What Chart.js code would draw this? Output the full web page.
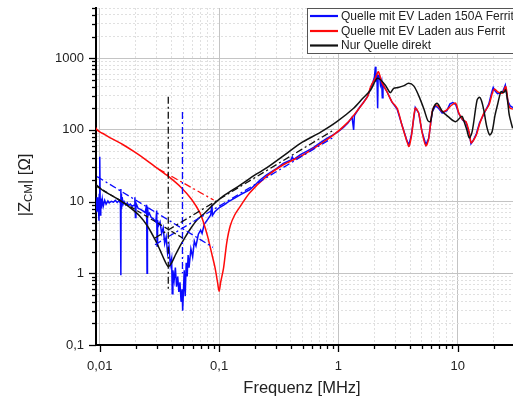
<!DOCTYPE html>
<html><head><meta charset="utf-8">
<script src="https://cdn.jsdelivr.net/npm/chart.js@4/dist/chart.umd.min.js"></script>
<style>html,body{margin:0;padding:0;background:#fff}#wrap{width:513px;height:401px;position:relative}</style>
</head><body><div id="wrap"><canvas id="c" width="513" height="401"></canvas></div>
<script>
// ---- tick labels ----
const xTickValues = [0.01, 0.1, 1, 10];
const xTickLabels = ['0,01', '0,1', '1', '10'];
const yTickValues = [0.1, 1, 10, 100, 1000];
const yTickLabels = ['0,1', '1', '10', '100', '1000'];
const xTitle = 'Frequenz [MHz]';
const legendLabels = ['Quelle mit EV Laden 150A Ferrit', 'Quelle mit EV Laden aus Ferrit', 'Nur Quelle direkt'];

// ---- series: Quelle mit EV Laden 150A Ferrit (blue) ----
const blueF = [0.0092,0.00935,0.0095,0.0096,0.0097,0.00985,0.0099,0.01,0.0101,0.0102,0.0103,0.0105,0.0107,0.011,0.0113,0.0117,0.012,0.0125,0.013,0.0135,0.014,0.0145,0.0149,0.015,0.01505,0.0151,0.0152,0.0154,0.0157,0.016,0.0165,0.017,0.0175,0.018,0.0187,0.0194,0.0197,0.0199,0.0201,0.021,0.022,0.023,0.024,0.0247,0.0249,0.0251,0.0255,0.026,0.027,0.028,0.0295,0.03,0.0302,0.0305,0.031,0.032,0.033,0.034,0.035,0.036,0.037,0.038,0.039,0.04,0.0405,0.041,0.042,0.043,0.044,0.045,0.046,0.047,0.048,0.049,0.0495,0.05,0.051,0.052,0.053,0.054,0.055,0.056,0.058,0.06,0.062,0.064,0.067,0.07,0.072,0.075,0.08,0.085,0.087,0.088,0.092,0.1,0.11,0.12,0.135,0.15,0.18,0.2,0.22,0.25,0.3,0.345,0.4,0.41,0.42,0.48,0.55,0.62,0.7,0.8,0.91,1.0,1.1,1.2,1.3,1.34,1.36,1.5,1.6,1.75,1.86,1.95,2.0,2.04,2.06,2.1,2.13,2.15,2.2,2.25,2.3,2.33,2.36,2.45,2.55,2.8,3.1,3.4,3.75,3.9,4.1,4.4,4.7,5.0,5.4,5.7,6.1,6.5,6.9,7.4,8.1,8.6,9.1,9.6,10.2,11,11.7,12.5,12.9,13.4,14.3,15.2,16.5,18.2,19.2,19.8,20.5,21.5,23.6,25,26.3,27.5,29];
const blueZ = [9.5,8.2,11.5,7.2,10.5,5.4,12.5,42,6.5,11,8,10.8,8.6,10.4,9.2,10.2,9.6,10.1,9.8,10.4,9.7,10.3,9.5,15,0.94,13,7.8,11.5,9.2,10,9.0,9.6,8.8,9.2,8.6,8.9,11.5,6.0,9.5,8.0,7.8,7.4,7.0,9.0,1.0,8.5,6.5,6.9,6.0,5.8,5.2,7.5,2.4,5.5,4.6,5.2,3.6,4.3,2.6,3.2,1.9,2.4,1.3,1.6,0.52,1.1,0.8,1.2,0.65,0.9,0.55,0.75,0.4,0.6,0.3,0.45,1.1,0.48,1.4,0.9,1.8,1.2,2.2,1.7,2.8,2.4,3.5,4.0,3.6,4.8,5.6,6.5,9.0,6.4,7.2,8.2,9.0,10.0,11.2,12.4,14.6,17,20,23.5,28.5,34,38,42,38.5,45,51,57,66,76,86,95,108,125,150,100,158,205,235,290,380,470,540,760,470,610,200,560,580,420,480,280,440,380,340,245,195,118,70,62,88,205,172,96,62,76,178,215,200,172,185,230,240,225,168,136,128,88,64,70,88,125,165,230,330,390,350,320,330,420,250,215,205];

// ---- series: Quelle mit EV Laden aus Ferrit (red) ----
const redF = [0.0092,0.0095,0.01,0.011,0.0125,0.0157,0.02,0.025,0.03,0.0376,0.0485,0.0589,0.069,0.074,0.08,0.0838,0.088,0.0925,0.097,0.1,0.103,0.109,0.116,0.124,0.135,0.15,0.18,0.25,0.345,0.48,0.66,0.91,1.18,1.4,1.75,1.86,2.03,2.15,2.2,2.33,2.55,2.8,3.1,3.4,3.75,3.9,4.1,4.4,4.7,5.0,5.4,5.7,6.1,6.5,6.9,7.4,8.1,8.9,9.6,10.2,11,11.7,12.5,12.9,13.4,14.3,15.2,16.5,18.2,19.5,20.3,21.5,23.6,25.2,26.5,27.5,29];
const redZ = [108,100,94,86,76,62,48,37,29.4,22.4,15.5,10.7,7.0,5.1,3.3,2.4,1.7,1.19,0.75,0.56,0.75,1.19,2.7,4.6,6.5,8.5,13.2,22.4,32.6,42.5,58.7,85,124,175,290,400,522,645,600,445,340,248,200,117,69,58.7,85,200,171,95,60,75,180,222,211,180,190,222,235,171,138,130,90,66,70,85,120,170,220,330,370,340,324,400,230,200,195];

// ---- series: Nur Quelle direkt (black) ----
const blackF = [0.0093,0.0105,0.0125,0.0152,0.018,0.0217,0.025,0.029,0.032,0.035,0.0375,0.04,0.043,0.047,0.052,0.057,0.065,0.0762,0.09,0.108,0.15,0.2,0.25,0.35,0.48,0.71,0.97,1.34,1.6,1.86,2.1,2.25,2.47,2.72,2.9,3.17,3.5,3.87,4.27,4.7,5.2,5.6,5.9,6.2,6.7,7.4,8.3,9.6,10.8,11.3,11.9,12.5,13.2,14.5,15.2,15.8,16.5,17.5,18.5,19.4,20.5,21.5,23,24.2,25.2,26.3,27,28.8];
const blackZ = [17.2,14.5,12.2,10.1,8.2,6.25,4.6,2.97,2.1,1.5,1.24,1.4,1.8,2.4,3.2,4.08,5.5,7.0,9.2,11.9,17,23.5,29.4,44,65,93,130,200,275,360,520,500,420,330,380,390,410,445,410,300,195,135,130,195,235,182,153,130,155,130,100,77,95,260,285,255,190,110,85,95,160,222,340,330,360,230,160,105];

// ---- asymptote / marker lines (frequency, impedance) ----
const blackCapF = [0.0093, 0.052], blackCapZ = [16.5, 2.95];
const blackIndF = [0.029, 0.9],   blackIndZ = [3.1, 98];
const blackVertF = [0.0375, 0.0375], blackVertZ = [290, 0.6];
const blueCapF = [0.0095, 0.089], blueCapZ = [22.3, 2.3];
const blueIndF = [0.029, 0.9],    blueIndZ = [2.5, 78];
const blueVertF = [0.0493, 0.0493], blueVertZ = [178, 1.0];
const redCapF = [0.031, 0.09],    redCapZ = [28.5, 10.5];

const BLUE = '#0a0aff', RED = '#ff0a0a', BLACK = '#111111';
const pts = (f, z) => f.map((v, i) => ({x: v, y: z[i]}));
const DASHDOT = [7, 3, 2, 3];

function logTicks(min, max) {
  const out = [];
  for (let k = -3; k <= 4; k++) for (let m = 1; m <= 9; m++) {
    const v = parseFloat((m * Math.pow(10, k)).toPrecision(6));
    if (v >= min && v <= max) out.push({value: v, major: m === 1});
  }
  return out;
}
function labelFor(v, vals, labels) {
  for (let i = 0; i < vals.length; i++) if (Math.abs(v / vals[i] - 1) < 1e-6) return labels[i];
  return '';
}

const X_MIN = 0.0093, X_MAX = 29, Y_MIN = 0.1, Y_MAX = 5000;

const decor = {
  id: 'decor',
  afterDraw(chart) {
    const ctx = chart.ctx, xs = chart.scales.x, ys = chart.scales.y, ca = chart.chartArea;
    ctx.save();
    ctx.strokeStyle = '#000'; ctx.lineWidth = 1.3;
    xs.ticks.forEach(t => {
      const px = Math.round(xs.getPixelForValue(t.value)) + 0.5;
      ctx.beginPath(); ctx.moveTo(px, ca.bottom); ctx.lineTo(px, ca.bottom + (t.major ? 7 : 4)); ctx.stroke();
    });
    ys.ticks.forEach(t => {
      const py = Math.round(ys.getPixelForValue(t.value)) + 0.5;
      ctx.beginPath(); ctx.moveTo(ca.left, py); ctx.lineTo(ca.left - (t.major ? 7 : 4), py); ctx.stroke();
    });
    ctx.fillStyle = '#222';
    ctx.font = '16.5px "Liberation Sans", Arial, sans-serif';
    ctx.textAlign = 'center'; ctx.textBaseline = 'middle';
    ctx.fillText(xTitle, 302, 388);
    ctx.translate(25, 185); ctx.rotate(-Math.PI / 2);
    const big = '16.5px "Liberation Sans", Arial, sans-serif', small = '11.5px "Liberation Sans", Arial, sans-serif';
    const parts = [['|Z', big, 0], ['CM', small, 4], ['| [Ω]', big, 0]];
    let total = 0;
    parts.forEach(p => { ctx.font = p[1]; total += ctx.measureText(p[0]).width; });
    let x = -total / 2;
    ctx.textAlign = 'left';
    parts.forEach(p => { ctx.font = p[1]; ctx.fillText(p[0], x, p[2]); x += ctx.measureText(p[0]).width; });
    ctx.restore();
    ctx.save();
    ctx.fillStyle = '#fff'; ctx.fillRect(307.5, 8.5, 220, 45);
    ctx.strokeStyle = '#555'; ctx.lineWidth = 1; ctx.strokeRect(307.5, 8.5, 220, 45);
    const cols = [BLUE, RED, BLACK], rows = [16, 31, 45.5];
    ctx.font = '12px "Liberation Sans", Arial, sans-serif';
    ctx.textAlign = 'left'; ctx.textBaseline = 'middle'; ctx.fillStyle = '#222';
    legendLabels.forEach((l, i) => {
      ctx.strokeStyle = cols[i]; ctx.lineWidth = 2.2;
      ctx.beginPath(); ctx.moveTo(310, rows[i]); ctx.lineTo(338, rows[i]); ctx.stroke();
      ctx.fillText(l, 341, rows[i] + 0.5);
    });
    ctx.restore();
  }
};

const mainLine = (data, color, order, tension) => ({
  data, borderColor: color, backgroundColor: color, borderWidth: 1.5, pointRadius: 0,
  tension: tension, fill: false, order
});
const dashLine = (data, color, dash) => ({
  data, borderColor: color, borderWidth: 1.3, pointRadius: 0, borderDash: dash, fill: false, order: 0
});

new Chart(document.getElementById('c'), {
  type: 'line',
  data: {
    datasets: [
      mainLine(pts(blueF, blueZ), BLUE, 3, 0),
      mainLine(pts(redF, redZ), RED, 2, 0.3),
      mainLine(pts(blackF, blackZ), BLACK, 1, 0.3),
      dashLine(pts(blackCapF, blackCapZ), BLACK, [5, 3]),
      dashLine(pts(blackIndF, blackIndZ), BLACK, DASHDOT),
      dashLine(pts(blackVertF, blackVertZ), BLACK, DASHDOT),
      dashLine(pts(blueCapF, blueCapZ), BLUE, DASHDOT),
      dashLine(pts(blueIndF, blueIndZ), BLUE, DASHDOT),
      dashLine(pts(blueVertF, blueVertZ), BLUE, DASHDOT),
      dashLine(pts(redCapF, redCapZ), RED, DASHDOT)
    ]
  },
  options: {
    responsive: false, animation: false, devicePixelRatio: 1,
    layout: {padding: {top: 8, right: 0, left: 0, bottom: 0}},
    plugins: {legend: {display: false}, tooltip: {enabled: false}},
    scales: {
      x: {
        type: 'logarithmic', position: 'bottom', min: X_MIN, max: X_MAX,
        afterFit: s => { s.height = 56; s.paddingLeft = 0; s.paddingRight = 0; },
        afterBuildTicks: s => { s.ticks = logTicks(X_MIN, X_MAX); },
        ticks: {autoSkip: false, maxRotation: 0, padding: 14, color: '#222',
          font: {size: 13, family: '"Liberation Sans", Arial, sans-serif'},
          callback: (v, i, t) => t[i].major ? labelFor(t[i].value, xTickValues, xTickLabels) : ''},
        grid: {drawTicks: false, color: c => (c.tick && c.tick.major) ? '#c4c4c4' : '#e0e0e0', lineWidth: 1},
        border: {display: true, color: '#000', width: 2, dash: c => (c.tick && !c.tick.major) ? [2, 2] : []}
      },
      y: {
        type: 'logarithmic', position: 'left', min: Y_MIN, max: Y_MAX,
        afterFit: s => { s.width = 96; s.paddingTop = 0; s.paddingBottom = 0; },
        afterBuildTicks: s => { s.ticks = logTicks(Y_MIN, Y_MAX); },
        ticks: {autoSkip: false, padding: 12, color: '#222',
          font: {size: 13, family: '"Liberation Sans", Arial, sans-serif'},
          callback: (v, i, t) => t[i].major ? labelFor(t[i].value, yTickValues, yTickLabels) : ''},
        grid: {drawTicks: false, color: c => (c.tick && c.tick.major) ? '#c4c4c4' : '#e0e0e0', lineWidth: 1},
        border: {display: true, color: '#000', width: 2, dash: c => (c.tick && !c.tick.major) ? [2, 2] : []}
      }
    }
  },
  plugins: [decor]
});
</script>
</body></html>
